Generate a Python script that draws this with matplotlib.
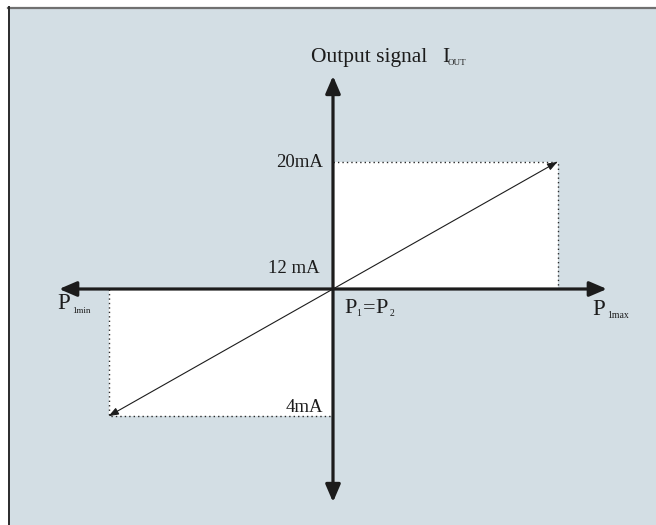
import matplotlib
matplotlib.use("Agg")
import matplotlib.pyplot as plt
from matplotlib.patches import Rectangle
from matplotlib.lines import Line2D

plt.rcParams['font.family'] = ['Liberation Serif', 'DejaVu Serif']

# pressure points (normalised): P1min, P1=P2, P1max
p_points = [-1.0, 0.0, 1.0]
# output current at those points, mA
i_points = [4, 12, 20]
i_labels = ['4mA', '12 mA', '20mA']

W, H = 656, 525
ink = '#1c1c1c'
bg = '#d3dee4'

fig = plt.figure(figsize=(W / 100, H / 100), dpi=100)
fig.patch.set_facecolor('white')

# panel background + top/left frame
fig.patches.append(Rectangle((8 / W, 0), 1, 1 - 7 / H, transform=fig.transFigure,
                             facecolor=bg, edgecolor='none', zorder=-1))
fig.add_artist(Line2D([8 / W, 1], [1 - 7.5 / H] * 2, color='#707070', lw=1.6))
fig.add_artist(Line2D([8.7 / W] * 2, [0, 1 - 7 / H], color='#2b2b2b', lw=1.4))

ax = fig.add_axes([0, 0, 1, 1])
ax.set_axis_off()

# pixel scale of the drawing: origin at (333, 289)
x0, y0, sx, sy = 333, 289, 224.5, 15.9
ax.set_xlim(-x0 / sx, (W - x0) / sx)
ax.set_ylim(12 - (H - y0) / sy, 12 + y0 / sy)

pmin, pmid, pmax = p_points
imin, imid, imax = i_points

# white quadrant boxes
ax.add_patch(Rectangle((pmid, imid), pmax - pmid, imax - imid, fc='white', ec='none'))
ax.add_patch(Rectangle((pmin, imin), pmid - pmin, imid - imin, fc='white', ec='none'))
dot = dict(color='#2a2a2a', lw=1.0, ls=(0, (1, 2.2)))
ax.plot([pmid, pmax, pmax], [imax, imax, imid], **dot)
ax.plot([pmin, pmin, pmid], [imid, imin, imin], **dot)

# axes with arrows on both ends
h_reach = 1.22
v_reach = 13.4
big = dict(arrowstyle='<|-|>,head_length=1.05,head_width=0.45', mutation_scale=10,
           lw=2.3, color=ink, shrinkA=0, shrinkB=0)
ax.annotate('', xy=(pmid + h_reach, imid), xytext=(pmid - h_reach, imid), arrowprops=big)
ax.annotate('', xy=(pmid, imid + v_reach), xytext=(pmid, imid - v_reach), arrowprops=big)

# characteristic line
small = dict(arrowstyle='<|-|>,head_length=0.6,head_width=0.22', mutation_scale=10,
             lw=0.8, color=ink, shrinkA=0, shrinkB=0)
ax.annotate('', xy=(pmax, imax), xytext=(pmin, imin), arrowprops=small)

# current labels
offs = [(-10, 4), (-13, 16), (-10, -5)]
for val, lab, off in zip(i_points, i_labels, offs):
    ax.annotate(lab, xy=(pmid, val), xytext=off, textcoords='offset pixels',
                ha='right', va='baseline', fontsize=13.5, color=ink)


def ptext(x, y, s, size, **kw):
    fig.text(x / W, 1 - y / H, s, fontsize=size, va='baseline', color=ink, **kw)


ptext(311, 62, 'Output signal', 15.5)
ptext(442, 62, 'I', 15.5)
ptext(448, 65, 'OUT', 6.5)

ptext(344, 313, 'P', 16)
ptext(356, 316, '1', 7)
ptext(363, 313, '=', 16)
ptext(375, 313, 'P', 16)
ptext(390, 316, '2', 7)

ptext(57, 309, 'P', 16.5)
ptext(72, 313, '1min', 6.5)
ptext(592, 315, 'P', 16.5)
ptext(607, 318, '1max', 7)

fig.savefig('out.png', dpi=100)
